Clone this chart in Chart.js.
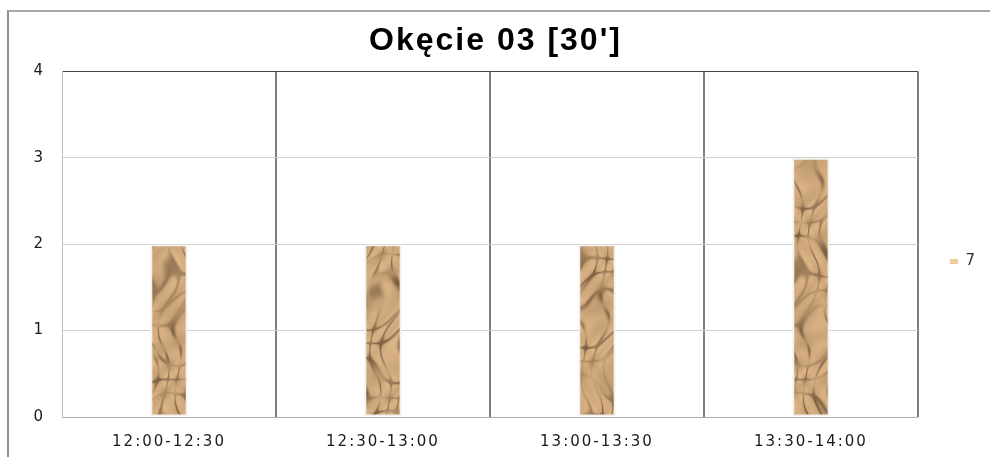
<!DOCTYPE html>
<html>
<head>
<meta charset="utf-8">
<script src="https://cdn.jsdelivr.net/npm/chart.js@4"></script>
<style>
  html, body { margin: 0; padding: 0; background: #fff; width: 990px; height: 457px; overflow: hidden; }
  #frame { position: absolute; left: 7px; top: 10px; width: 981px; height: 461px;
           border-left: 2px solid #8f8f8f; border-top: 2px solid #a8a8a8; }
  #wrap { position: absolute; left: 0; top: 0; width: 981px; height: 461px; }
</style>
</head>
<body>
<div id="frame"><div id="wrap"><canvas id="c" width="981" height="461"></canvas></div></div>
<script>
const chartTitle = "Okęcie 03 [30']";
const categories = ["12:00-12:30", "12:30-13:00", "13:00-13:30", "13:30-14:00"];
const seriesName = "7";
const seriesValues = [2, 2, 2, 3];
const yTicks = [0, 1, 2, 3, 4];

// deterministic "crumpled paper" texture built from sine ridges (covers the whole canvas, no seams)
function makeTexture(W, H) {
  const c = document.createElement('canvas');
  c.width = W; c.height = H;
  const g = c.getContext('2d');
  const img = g.createImageData(W, H);
  for (let y = 0; y < H; y++) {
    for (let x = 0; x < W; x++) {
      const a = Math.sin(x * 0.23 + y * 0.13 + 2.3 * Math.sin(y * 0.08 + x * 0.05));
      const b = Math.sin(x * 0.19 - y * 0.11 + 1.9 * Math.sin(x * 0.09 - y * 0.04));
      const d = Math.sin((x + 2.5 * y) * 0.07 + Math.sin(y * 0.045 + x * 0.02) * 3);
      const v = 0.45 * a + 0.35 * b + 0.3 * d;
      const crease = Math.exp(-Math.pow((a - b) * 2.4, 2)) * (0.6 + 0.4 * d);
      const t = 0.35 * v;
      const r = 208 + 50 * t - 100 * crease * 0.75;
      const gg = 170 + 46 * t - 90 * crease * 0.75;
      const bb = 125 + 40 * t - 72 * crease * 0.75;
      const i = (y * W + x) * 4;
      img.data[i] = Math.max(0, Math.min(255, r));
      img.data[i + 1] = Math.max(0, Math.min(255, gg));
      img.data[i + 2] = Math.max(0, Math.min(255, bb));
      img.data[i + 3] = 255;
    }
  }
  g.putImageData(img, 0, 0);
  return c;
}

const canvasEl = document.getElementById('c');
const ctx = canvasEl.getContext('2d');
const pattern = ctx.createPattern(makeTexture(canvasEl.width, canvasEl.height), 'repeat');

const layoutPlugin = {
  id: 'tweaks',
  beforeLayout(chart) {
    const tb = chart.titleBlock;
    if (tb && !tb._patched) {
      tb._patched = true;
      const orig = tb.draw.bind(tb);
      tb.draw = function () {
        const c = this.ctx;
        c.save();
        c.letterSpacing = '2px';
        c.translate(-12, 0);
        orig();
        c.restore();
        c.letterSpacing = '0px';
      };
    }
  },
  beforeDraw(chart) { chart.ctx.letterSpacing = '0px'; },
  afterDatasetsDraw(chart) { chart.ctx.letterSpacing = '2px'; },
  afterDraw(chart) { chart.ctx.letterSpacing = '0px'; }
};

new Chart(ctx, {
  type: 'bar',
  data: {
    labels: categories,
    datasets: [{
      label: seriesName,
      data: seriesValues,
      backgroundColor: pattern,
      borderColor: '#f3f1ee',
      borderWidth: 2,
      borderSkipped: false,
      barPercentage: 0.175,
      categoryPercentage: 1.0
    }]
  },
  options: {
    responsive: false,
    animation: false,
    devicePixelRatio: 1,
    layout: { padding: { left: 21, right: 5, top: 0, bottom: 6 } },
    plugins: {
      title: {
        display: true,
        text: chartTitle,
        color: '#000',
        font: { family: 'Liberation Sans, Arial, sans-serif', size: 32, weight: 'bold' },
        padding: { top: 10, bottom: 11 }
      },
      legend: {
        position: 'right',
        title: { display: true, text: '', font: { size: 10 }, padding: 16 },
        labels: {
          color: '#333',
          font: { family: 'DejaVu Sans, sans-serif', size: 15 },
          boxWidth: 8,
          boxHeight: 5,
          padding: 32,
          generateLabels(chart) {
            return chart.data.datasets.map((ds, i) => ({
              text: ds.label, fillStyle: '#eccb9d', strokeStyle: '#eccb9d', lineWidth: 0,
              hidden: false, datasetIndex: i, fontColor: '#333'
            }));
          }
        }
      },
      tooltip: { enabled: false }
    },
    scales: {
      x: {
        grid: {
          offset: true,
          drawTicks: false,
          color: (c) => c.index === 4 ? '#000' : (c.index === 0 ? '#bdbdbd' : '#7d7d7d'),
          lineWidth: (c) => c.index === 0 ? 1 : 2
        },
        border: { display: true, color: '#b0b0b0', width: 1 },
        ticks: {
          color: '#1a1a1a',
          font: { family: 'DejaVu Sans, sans-serif', size: 15 },
          padding: 16,
          z: 1
        }
      },
      y: {
        min: 0,
        max: 4,
        afterBuildTicks(scale) { scale.ticks = yTicks.map(v => ({ value: v })); },
        afterFit(scale) { scale.width = 32; },
        grid: {
          drawTicks: false,
          color: (c) => c.index === 4 ? '#444' : '#cfcfcf',
          lineWidth: 1
        },
        border: { display: true, color: '#bdbdbd', width: 1 },
        ticks: {
          color: '#1a1a1a',
          font: { family: 'DejaVu Sans, sans-serif', size: 15 },
          padding: 19
        }
      }
    }
  },
  plugins: [layoutPlugin]
});
</script>
</body>
</html>
